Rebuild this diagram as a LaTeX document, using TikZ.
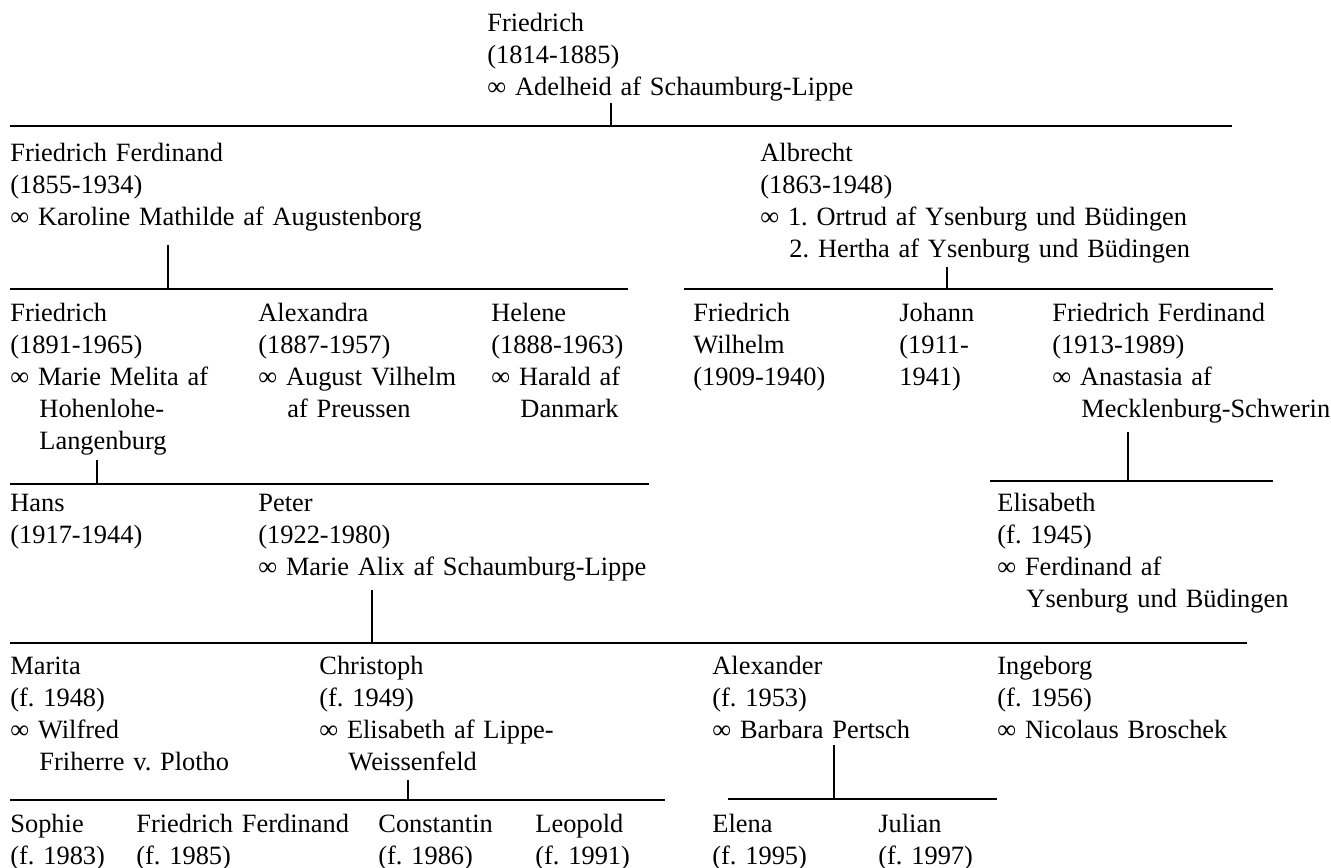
\documentclass[tikz,border=0pt]{standalone}
\usepackage{fontspec}
\setmainfont{Liberation Serif}
\frenchspacing
\newcommand{\ind}{\hspace*{1.1em}}
\begin{document}
\begin{tikzpicture}[x=0.5pt, y=-0.5pt,
    person/.style={anchor=base west, inner sep=0pt, text width=9cm, align=left, font=\fontsize{13.2}{16}\selectfont},
    bar/.style={line width=0.9pt}]
    \useasboundingbox (0,0) rectangle (1331,867);

    % generation 1
    \node[person] (friedrich) at (487,32) {Friedrich\\(1814-1885)\\∞ Adelheid af Schaumburg-Lippe};

    % generation 2
    \node[person] (ferdA) at (10,161) {Friedrich Ferdinand\\(1855-1934)\\∞ Karoline Mathilde af Augustenborg};
    \node[person] (albrecht) at (760,161) {Albrecht\\(1863-1948)\\∞ 1. Ortrud af Ysenburg und Büdingen\\\ind 2. Hertha af Ysenburg und Büdingen};

    % generation 3
    \node[person] (friedrichB) at (10,321) {Friedrich\\(1891-1965)\\∞ Marie Melita af\\\ind Hohenlohe-\\\ind Langenburg};
    \node[person] (alexandra) at (258,321) {Alexandra\\(1887-1957)\\∞ August Vilhelm\\\ind af Preussen};
    \node[person] (helene) at (491,321) {Helene\\(1888-1963)\\∞ Harald af\\\ind Danmark};
    \node[person] (wilhelm) at (693,321) {Friedrich\\Wilhelm\\(1909-1940)};
    \node[person] (johann) at (899,321) {Johann\\(1911-\\1941)};
    \node[person] (ferdB) at (1052,321) {Friedrich Ferdinand\\(1913-1989)\\∞ Anastasia af\\\ind Mecklenburg-Schwerin};

    % generation 4
    \node[person] (hans) at (10,511) {Hans\\(1917-1944)};
    \node[person] (peter) at (258,511) {Peter\\(1922-1980)\\∞ Marie Alix af Schaumburg-Lippe};
    \node[person] (elisabeth) at (997,511) {Elisabeth\\(f. 1945)\\∞ Ferdinand af\\\ind Ysenburg und Büdingen};

    % generation 5
    \node[person] (marita) at (10,674) {Marita\\(f. 1948)\\∞ Wilfred\\\ind Friherre v. Plotho};
    \node[person] (christoph) at (319,674) {Christoph\\(f. 1949)\\∞ Elisabeth af Lippe-\\\ind Weissenfeld};
    \node[person] (alexander) at (712,674) {Alexander\\(f. 1953)\\∞ Barbara Pertsch};
    \node[person] (ingeborg) at (997,674) {Ingeborg\\(f. 1956)\\∞ Nicolaus Broschek};

    % generation 6
    \node[person] (sophie) at (10,832) {Sophie\\(f. 1983)};
    \node[person] (ferdC) at (136,832) {Friedrich Ferdinand\\(f. 1985)};
    \node[person] (constantin) at (378,832) {Constantin\\(f. 1986)};
    \node[person] (leopold) at (535,832) {Leopold\\(f. 1991)};
    \node[person] (elena) at (712,832) {Elena\\(f. 1995)};
    \node[person] (julian) at (878,832) {Julian\\(f. 1997)};

    % bars and stubs
    \coordinate (barA) at (10,126);   \coordinate (barAe) at (1232,126);
    \coordinate (barB) at (10,289);   \coordinate (barBe) at (628,289);
    \coordinate (barC) at (684,289);  \coordinate (barCe) at (1273,289);
    \coordinate (barD) at (10,484);   \coordinate (barDe) at (649,484);
    \coordinate (barE) at (990,481);  \coordinate (barEe) at (1273,481);
    \coordinate (barF) at (10,643);   \coordinate (barFe) at (1247,643);
    \coordinate (barG) at (10,800);   \coordinate (barGe) at (665,800);
    \coordinate (barH) at (728,799);  \coordinate (barHe) at (997,799);

    \coordinate (stubA) at (611,103);
    \coordinate (stubB) at (168,245);
    \coordinate (stubC) at (947,267);
    \coordinate (stubD) at (97,460);
    \coordinate (stubE) at (1128,432);
    \coordinate (stubF) at (372,590);
    \coordinate (stubG) at (408,780);
    \coordinate (stubH) at (834,745);

    \draw[bar] (barA) -- (barAe);
    \draw[bar] (barB) -- (barBe);
    \draw[bar] (barC) -- (barCe);
    \draw[bar] (barD) -- (barDe);
    \draw[bar] (barE) -- (barEe);
    \draw[bar] (barF) -- (barFe);
    \draw[bar] (barG) -- (barGe);
    \draw[bar] (barH) -- (barHe);

    \draw[bar] (stubA) -- (stubA |- barA);
    \draw[bar] (stubB) -- (stubB |- barB);
    \draw[bar] (stubC) -- (stubC |- barC);
    \draw[bar] (stubD) -- (stubD |- barD);
    \draw[bar] (stubE) -- (stubE |- barE);
    \draw[bar] (stubF) -- (stubF |- barF);
    \draw[bar] (stubG) -- (stubG |- barG);
    \draw[bar] (stubH) -- (stubH |- barH);
\end{tikzpicture}
\end{document}
